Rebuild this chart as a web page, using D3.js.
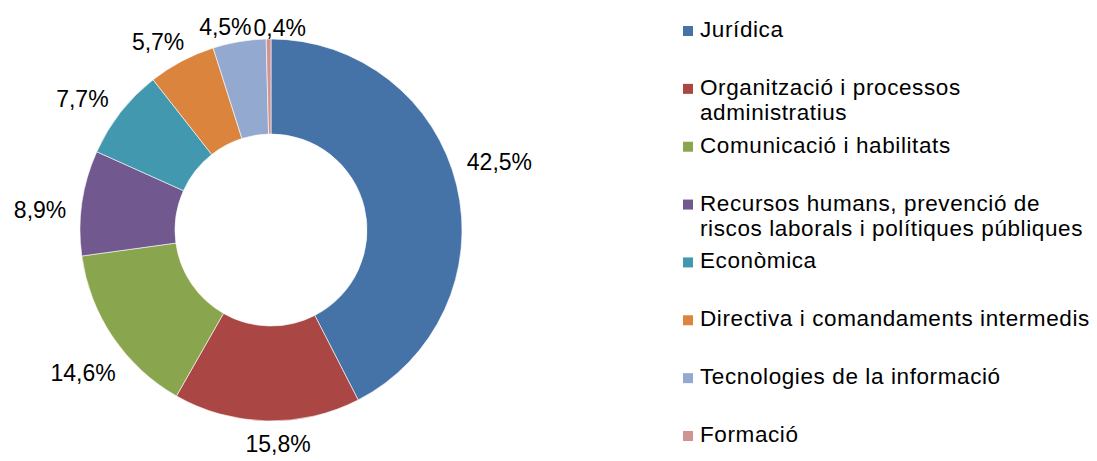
<!DOCTYPE html>
<html>
<head>
<meta charset="utf-8">
<script src="https://cdn.jsdelivr.net/npm/d3@7"></script>
<style>
  body { margin: 0; background: #fff; }
  svg { display: block; font-family: "Liberation Sans", Arial, sans-serif; }
</style>
</head>
<body>
<svg></svg>
<script>
const width = 1097;
const height = 461;

// data
const categories = [
  'Jurídica',
  'Organització i processos administratius',
  'Comunicació i habilitats',
  'Recursos humans, prevenció de riscos laborals i polítiques públiques',
  'Econòmica',
  'Directiva i comandaments intermedis',
  'Tecnologies de la informació',
  'Formació'
];
const shares = [42.5, 15.8, 14.6, 8.9, 7.7, 5.7, 4.5, 0.4];
const colors = ['#4572A7', '#AA4643', '#89A54E', '#71588F', '#4198AF', '#DB843D', '#93A9CF', '#D19392'];

const svg = d3.select('svg')
  .attr('width', width)
  .attr('height', height);

const cx = 271, cy = 230;
const outerR = 191, innerR = 96;

const color = d3.scaleOrdinal().domain(categories).range(colors);
const pct = d3.formatLocale({decimal: ',', thousands: '.', grouping: [3], currency: ['', '€']}).format('.1f');

const pie = d3.pie().sort(null).value(d => d.v);
const arc = d3.arc().innerRadius(innerR).outerRadius(outerR);

const rows = categories.map((c, i) => ({name: c, v: shares[i]}));
const arcs = pie(rows);

const g = svg.append('g').attr('transform', `translate(${cx},${cy})`);

//  slices ////////////////////
g.selectAll('.slice')
  .data(arcs)
  .enter()
  .append('path')
  .attr('class', 'slice')
  .attr('d', arc)
  .attr('fill', d => color(d.data.name))
  .attr('stroke', '#fff')
  .attr('stroke-width', 0.6);

//  labels outside ////////////
const labelSize = 23;
const capH = 0.716 * labelSize;
const skew = 0.055; // labels sit slightly counter-clockwise of the slice middle

const labels = g.selectAll('.pct-label')
  .data(arcs)
  .enter()
  .append('text')
  .attr('class', 'pct-label')
  .text(d => pct(d.data.v) + '%')
  .attr('font-size', labelSize + 'px')
  .attr('fill', '#000')
  .attr('text-anchor', 'middle');

const boxes = [];
labels.each(function(d) {
  const w = this.getComputedTextLength();
  const a = (d.startAngle + d.endAngle) / 2 - skew;
  const s = Math.sin(a), c = Math.cos(a);
  const hw = w / 2, hh = capH / 2;
  const gap = 14 - 12 * Math.pow(Math.max(0, c), 4);
  const dist = outerR + gap + hw * Math.abs(s) + hh * Math.abs(c);
  boxes.push({node: this, x: s * dist, y: -c * dist, hw: hw, hh: hh});
});

// a label that collides with the previous one slides away from it
for (let i = 1; i < boxes.length; i++) {
  const a = boxes[i - 1], b = boxes[i];
  const ox = (a.hw + b.hw + 2) - Math.abs(a.x - b.x);
  const oy = (a.hh + b.hh) - Math.abs(a.y - b.y);
  if (ox > 0 && oy > 0) {
    b.x += (b.x >= a.x ? 1 : -1) * ox;
  }
}

boxes.forEach(b => {
  d3.select(b.node)
    .attr('x', b.x)
    .attr('y', b.y + capH / 2);
});

//  legend ////////////////////
const legendFont = 22.5;
const legendX = 683;
const legendY = d3.scaleLinear().domain([0, categories.length - 1]).range([37, 442]);
const maxW = 395;

const leg = svg.append('g')
  .selectAll('.legend-item')
  .data(categories)
  .enter()
  .append('g')
  .attr('class', 'legend-item')
  .attr('transform', (d, i) => `translate(${legendX},${legendY(i)})`);

leg.append('rect')
  .attr('x', 0)
  .attr('y', -11)
  .attr('width', 10)
  .attr('height', 10)
  .attr('fill', d => color(d));

leg.append('text')
  .attr('x', 17)
  .attr('y', 0)
  .attr('font-size', legendFont + 'px')
  .attr('letter-spacing', '0.6px')
  .attr('fill', '#000')
  .each(function(d) {
    const t = d3.select(this);
    const words = d.split(' ');
    let line = [];
    let ts = t.append('tspan').attr('x', 17).attr('dy', 0);
    words.forEach(w => {
      line.push(w);
      ts.text(line.join(' '));
      if (ts.node().getComputedTextLength() > maxW && line.length > 1) {
        line.pop();
        ts.text(line.join(' '));
        line = [w];
        ts = t.append('tspan').attr('x', 17).attr('dy', 25).text(w);
      }
    });
  });
</script>
</body>
</html>
